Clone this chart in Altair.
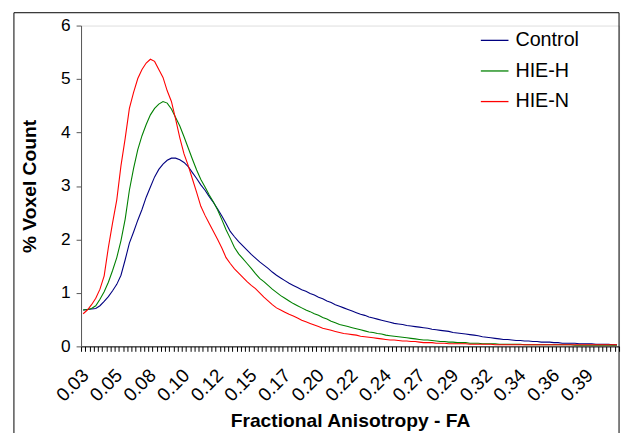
import altair as alt
import pandas as pd

# ---- data ----
TICK_LABELS = ["0.03", "0.05", "0.08", "0.10", "0.12", "0.15", "0.17", "0.20",
               "0.22", "0.24", "0.27", "0.29", "0.32", "0.34", "0.36", "0.39"]
SERIES = ["Control", "HIE-H", "HIE-N"]
COLORS = ["#000080", "#008000", "#FF0000"]

CONTROL = [
    0.68, 0.69, 0.70, 0.71, 0.76, 0.84, 0.93, 1.04, 1.16, 1.33,
    1.62, 1.93, 2.14, 2.36, 2.56, 2.79, 2.98, 3.17, 3.31, 3.41,
    3.48, 3.52, 3.52, 3.49, 3.44, 3.36, 3.25, 3.14, 3.02, 2.92,
    2.80, 2.69, 2.57, 2.44, 2.30, 2.15, 2.05, 1.96, 1.88, 1.80,
    1.72, 1.65, 1.58, 1.52, 1.46, 1.39, 1.33, 1.28, 1.23, 1.18,
    1.14, 1.10, 1.06, 1.03, 0.99, 0.96, 0.92, 0.89, 0.85, 0.82,
    0.78, 0.75, 0.72, 0.69, 0.66, 0.63, 0.60, 0.58, 0.55, 0.53,
    0.51, 0.49, 0.47, 0.45, 0.43, 0.42, 0.41, 0.39, 0.38, 0.37,
    0.36, 0.35, 0.34, 0.32, 0.31, 0.30, 0.29, 0.28, 0.26, 0.25,
    0.24, 0.23, 0.22, 0.21, 0.20, 0.18, 0.17, 0.16, 0.15, 0.14,
    0.13, 0.13, 0.12, 0.11, 0.11, 0.10, 0.10, 0.09, 0.09, 0.08,
    0.08, 0.08, 0.07, 0.07, 0.06, 0.06, 0.06, 0.06, 0.05, 0.05,
    0.05, 0.05, 0.04, 0.04, 0.04, 0.04, 0.03, 0.03]

HIE_H = [
    0.68, 0.69, 0.71, 0.76, 0.88, 1.02, 1.20, 1.42, 1.66, 1.98,
    2.38, 2.92, 3.33, 3.68, 3.94, 4.15, 4.33, 4.45, 4.53, 4.58,
    4.55, 4.44, 4.28, 4.12, 3.92, 3.71, 3.50, 3.30, 3.12, 2.98,
    2.83, 2.70, 2.55, 2.37, 2.18, 2.02, 1.85, 1.73, 1.64, 1.55,
    1.46, 1.36, 1.27, 1.21, 1.14, 1.07, 1.01, 0.95, 0.90, 0.85,
    0.80, 0.76, 0.72, 0.68, 0.65, 0.61, 0.58, 0.54, 0.51, 0.47,
    0.44, 0.41, 0.39, 0.37, 0.35, 0.33, 0.31, 0.29, 0.27, 0.26,
    0.24, 0.23, 0.21, 0.20, 0.19, 0.18, 0.17, 0.16, 0.15, 0.14,
    0.13, 0.12, 0.12, 0.11, 0.10, 0.09, 0.09, 0.08, 0.08, 0.07,
    0.07, 0.07, 0.06, 0.06, 0.06, 0.05, 0.05, 0.05, 0.05, 0.04,
    0.04, 0.04, 0.04, 0.04, 0.04, 0.03, 0.03, 0.03, 0.03, 0.03,
    0.03, 0.03, 0.03, 0.03, 0.03, 0.03, 0.03, 0.02, 0.02, 0.02,
    0.02, 0.02, 0.02, 0.02, 0.02, 0.02, 0.02, 0.02]

HIE_N = [
    0.61, 0.68, 0.78, 0.90, 1.07, 1.32, 1.85, 2.31, 2.74, 3.38,
    3.89, 4.45, 4.75, 5.01, 5.18, 5.30, 5.37, 5.33, 5.18, 5.03,
    4.78, 4.58, 4.25, 3.90, 3.60, 3.38, 3.13, 2.88, 2.62, 2.45,
    2.30, 2.15, 2.00, 1.84, 1.66, 1.55, 1.45, 1.37, 1.29, 1.21,
    1.14, 1.08, 1.00, 0.92, 0.85, 0.78, 0.72, 0.68, 0.64, 0.60,
    0.57, 0.53, 0.49, 0.46, 0.43, 0.40, 0.37, 0.34, 0.32, 0.30,
    0.28, 0.26, 0.24, 0.23, 0.22, 0.21, 0.19, 0.18, 0.17, 0.16,
    0.15, 0.14, 0.13, 0.12, 0.12, 0.11, 0.10, 0.10, 0.09, 0.09,
    0.08, 0.07, 0.07, 0.07, 0.06, 0.06, 0.06, 0.05, 0.05, 0.05,
    0.05, 0.05, 0.04, 0.04, 0.04, 0.04, 0.04, 0.04, 0.03, 0.03,
    0.03, 0.03, 0.03, 0.03, 0.03, 0.03, 0.03, 0.03, 0.03, 0.03,
    0.03, 0.03, 0.03, 0.03, 0.03, 0.03, 0.03, 0.03, 0.03, 0.03,
    0.03, 0.03, 0.03, 0.03, 0.03, 0.03, 0.03, 0.03]

LABEL_EVERY = 8
N = len(CONTROL)

rows = []
for name, vals in zip(SERIES, [CONTROL, HIE_H, HIE_N]):
    for i, v in enumerate(vals):
        rows.append({"bin": i, "value": v, "series": name})
df = pd.DataFrame(rows)

FONT = "Liberation Sans"
W, H = 545, 325

labels_js = "[" + ",".join(f"'{t}'" for t in TICK_LABELS) + "]"
label_expr = (f"((datum.value + 0.5) % {LABEL_EVERY} == 0) ? "
              f"{labels_js}[(datum.value + 0.5) / {LABEL_EVERY}] : ''")
tick_vals = [i - 0.5 for i in range(N + 1)]
half_band = W / N / 2

x_axis = alt.Axis(
    values=tick_vals, labelExpr=label_expr, labelAngle=-45, labelAlign="right",
    labelBaseline="middle", labelOffset=half_band + 2, labelPadding=21,
    labelOverlap=False, labelFlush=False, labelBound=False,
    labelFont=FONT, labelFontSize=19, labelColor="black",
    tickSize=5, tickColor="black", domainColor="black", grid=False,
    title="Fractional Anisotropy - FA", titleFont=FONT, titleFontSize=19.5,
    titleFontWeight="bold", titleColor="black", titleY=81,
    titleBaseline="alphabetic",
)
y_axis = alt.Axis(
    values=[0, 1, 2, 3, 4, 5, 6], format="d", labelFont=FONT, labelFontSize=17.5,
    labelColor="black", labelPadding=6, tickSize=5, tickColor="#555555",
    domainColor="#555555", grid=False,
    title="% Voxel Count", titleFont=FONT, titleFontSize=19.5,
    titleFontWeight="bold", titleColor="black", titleX=-52, titleY=H / 2,
    titleAlign="center", titleBaseline="middle", titleAngle=270,
)

lines = alt.Chart(df).mark_line(strokeWidth=1.1).encode(
    x=alt.X("bin:Q", scale=alt.Scale(domain=[-0.5, N - 0.5], nice=False, zero=False),
            axis=x_axis),
    y=alt.Y("value:Q", scale=alt.Scale(domain=[0, 6], nice=False), axis=y_axis),
    color=alt.Color("series:N",
                    scale=alt.Scale(domain=SERIES, range=COLORS),
                    sort=SERIES,
                    legend=alt.Legend(
                        title=None, orient="none", legendX=404, legendY=0,
                        symbolType="stroke", symbolSize=784, symbolStrokeWidth=1.3,
                        labelFont=FONT, labelFontSize=20, labelColor="black",
                        labelOffset=6, rowPadding=6)),
    detail="series:N",
)

frame = alt.Chart(pd.DataFrame({"f": [0]})).mark_rect(
    fill=None, stroke="black", strokeWidth=1
).encode(
    x=alt.value(-68), x2=alt.value(W), y=alt.value(-13), y2=alt.value(H + 200)
)

chart = alt.layer(frame, lines).properties(
    width=W, height=H,
    autosize=alt.AutoSizeParams(type="none"),
    padding={"left": 74, "top": 15, "right": 3, "bottom": 88},
).configure_view(stroke=None).configure(background="white")

chart.save("out.html", embed_options={"renderer": "svg", "actions": False})
